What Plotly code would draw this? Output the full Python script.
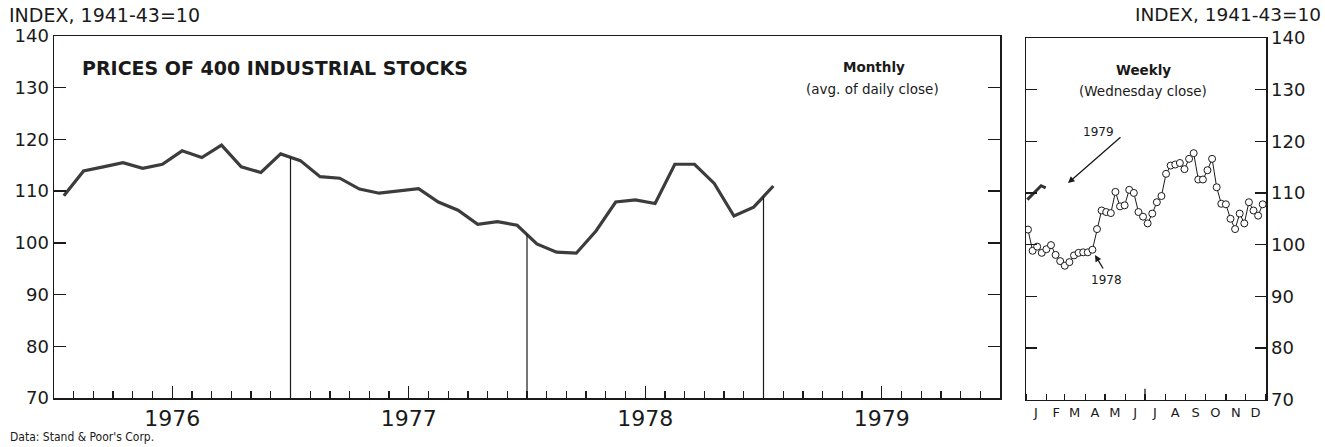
import numpy as np
import pandas as pd
import plotly.graph_objects as go

# ---------------- data ----------------
years = ["1976", "1977", "1978", "1979"]
monthly_values = [109.1, 113.9, 114.7, 115.5, 114.4, 115.2, 117.8, 116.5, 118.9, 114.7, 113.6, 117.2,
                  115.9, 112.8, 112.5, 110.4, 109.6, 110.0, 110.5, 107.9, 106.3, 103.6, 104.1, 103.4,
                  99.8, 98.2, 98.0, 102.3, 107.9, 108.3, 107.6, 115.2, 115.2, 111.5, 105.2, 106.9,
                  111.0]
weekly_1978_start = "1978-01-04"
weekly_1978 = [102.9, 98.8, 99.6, 98.4, 99.1, 99.9, 98.0, 96.8, 95.9, 96.6, 97.9, 98.4, 98.5,
               98.5, 99.0, 103.0, 106.6, 106.3, 106.1, 110.2, 107.4, 107.6, 110.6, 110.0, 106.3,
               105.4, 104.1, 106.0, 108.2, 109.4, 113.7, 115.3, 115.5, 115.8, 114.6, 116.6, 117.7,
               112.6, 112.6, 114.4, 116.6, 111.1, 107.9, 107.8, 105.0, 103.0, 106.0, 104.1, 108.2,
               106.6, 105.6, 107.8]
weekly_1979_start = "1979-01-03"
weekly_1979 = [108.7, 109.6, 110.5, 111.4, 111.0]
month_letters = ["J", "F", "M", "A", "M", "J", "J", "A", "S", "O", "N", "D"]
y_ticks = [70, 80, 90, 100, 110, 120, 130, 140]

# ---------------- geometry helpers ----------------
W, H = 1325, 447
def px(x):
    return x / W
def py(y):
    return 1 - y / H

FONT = "DejaVu Sans"
NARROW = "Liberation Sans Narrow, DejaVu Sans Condensed, Roboto Condensed, sans-serif"
INK = "#1a1a1a"

fig = go.Figure()

# monthly line
mx = np.arange(len(monthly_values)) + 0.5
fig.add_trace(go.Scatter(x=mx, y=monthly_values, mode="lines",
                         line=dict(color="#3c3c3c", width=3.2),
                         xaxis="x", yaxis="y", showlegend=False, hoverinfo="skip"))

# weekly 1978
wd78 = pd.date_range(weekly_1978_start, periods=len(weekly_1978), freq="7D")
fig.add_trace(go.Scatter(x=wd78, y=weekly_1978, mode="lines+markers",
                         line=dict(color=INK, width=1),
                         marker=dict(symbol="circle", size=7, color="white",
                                     line=dict(color=INK, width=1)),
                         xaxis="x2", yaxis="y2", showlegend=False, hoverinfo="skip"))

# weekly 1979 (plotted on same Jan-Dec scale)
wd79 = pd.date_range(weekly_1979_start, periods=len(weekly_1979), freq="7D") - pd.DateOffset(years=1)
fig.add_trace(go.Scatter(x=wd79, y=weekly_1979, mode="lines",
                         line=dict(color="#333333", width=3),
                         xaxis="x2", yaxis="y2", showlegend=False, hoverinfo="skip"))

# vertical year-boundary lines from curve to base
shapes = []
for b in (12, 24, 36):
    top = (monthly_values[b - 1] + monthly_values[b]) / 2
    shapes.append(dict(type="line", xref="x", yref="y", x0=b, x1=b, y0=70, y1=top,
                       line=dict(color=INK, width=1.2)))
# tall mid-year tick on weekly panel
shapes.append(dict(type="line", xref="x2", yref="y2 domain", x0="1978-07-01", x1="1978-07-01",
                   y0=0, y1=0.03, line=dict(color=INK, width=1.3)))

minor_left = [m for m in range(1, 48) if m not in (6, 18, 30, 42)]
month_mid = [pd.Timestamp(1978, m, 1) + pd.Timedelta(days=15) for m in range(1, 13)]

base = dict(showline=True, linecolor=INK, linewidth=1.5, showgrid=False, zeroline=False,
            tickcolor=INK, automargin=False)

fig.update_layout(
    template="none",
    width=W, height=H,
    margin=dict(l=0, r=0, t=0, b=0, autoexpand=False),
    paper_bgcolor="white", plot_bgcolor="white",
    font=dict(family=FONT, color=INK),
    xaxis=dict(domain=[px(54), px(1000)], range=[0, 48], anchor="y",
               tickvals=[6, 18, 30, 42], ticktext=years, ticks="inside", ticklen=12,
               tickwidth=1.3, tickfont=dict(size=22), mirror=True,
               minor=dict(tickvals=minor_left, ticks="inside", ticklen=7, tickwidth=1.3,
                          tickcolor=INK, showgrid=False),
               **base),
    yaxis=dict(domain=[py(398), py(36)], range=[70, 140], anchor="x",
               tickvals=y_ticks, ticks="inside", ticklen=12, tickwidth=1.3, mirror="ticks",
               tickfont=dict(size=18), **base),
    xaxis2=dict(domain=[px(1026), px(1266)], range=["1978-01-01", "1979-01-01"], anchor="y2",
                type="date", tickvals=month_mid, ticktext=month_letters, ticks="",
                tickfont=dict(size=13), mirror=True,
                minor=dict(dtick="M1", tick0="1978-01-01", ticks="inside", ticklen=6,
                           tickwidth=1.3, tickcolor=INK, showgrid=False),
                **base),
    yaxis2=dict(domain=[py(399.5), py(38)], range=[70, 140], anchor="x2", side="right",
                tickvals=y_ticks, ticks="inside", ticklen=11, tickwidth=1.3, mirror="ticks",
                tickfont=dict(size=18), **base),
    shapes=shapes,
)

ann = []
ann.append(dict(text="INDEX, 1941-43=10", x=px(7), y=py(15), xanchor="left", yanchor="middle",
                font=dict(size=19)))
ann.append(dict(text="INDEX, 1941-43=10", x=px(1323), y=py(15), xanchor="right", yanchor="middle",
                font=dict(size=18.5)))
ann.append(dict(text="<b>PRICES OF 400 INDUSTRIAL STOCKS</b>", x=px(80), y=py(68),
                xanchor="left", yanchor="middle", font=dict(size=19)))
ann.append(dict(text="<b>Monthly</b>", x=px(874), y=py(67), xanchor="center", yanchor="middle",
                font=dict(size=13.5)))
ann.append(dict(text="(avg. of daily close)", x=px(872), y=py(89), xanchor="center",
                yanchor="middle", font=dict(size=13.5)))
ann.append(dict(text="<b>Weekly</b>", x=px(1143), y=py(70), xanchor="center", yanchor="middle",
                font=dict(size=13.5)))
ann.append(dict(text="(Wednesday close)", x=px(1143), y=py(91), xanchor="center",
                yanchor="middle", font=dict(size=13.5)))
ann.append(dict(text="Data: Stand & Poor's Corp.", x=px(8), y=py(437), xanchor="left",
                yanchor="middle", font=dict(size=12, family=NARROW)))
ann.append(dict(text="1979", x=px(1098), y=py(132), xanchor="center", yanchor="middle",
                font=dict(size=12)))
ann.append(dict(text="1978", x=px(1106), y=py(280), xanchor="center", yanchor="middle",
                font=dict(size=12)))
# arrows
ann.append(dict(text="", x=px(1068), y=py(183), showarrow=True, ax=54, ay=-47,
                arrowhead=2, arrowsize=1, arrowwidth=1.3, arrowcolor=INK))
ann.append(dict(text="", x=px(1095), y=py(255), showarrow=True, ax=9, ay=15,
                arrowhead=2, arrowsize=1, arrowwidth=1.3, arrowcolor=INK))
for a in ann:
    a.setdefault("xref", "paper")
    a.setdefault("yref", "paper")
    a.setdefault("showarrow", False)
fig.update_layout(annotations=ann)

fig.write_html("out.html", config={"displayModeBar": False, "staticPlot": True},
               post_script="document.body.style.margin='0';document.body.style.overflow='hidden';")
